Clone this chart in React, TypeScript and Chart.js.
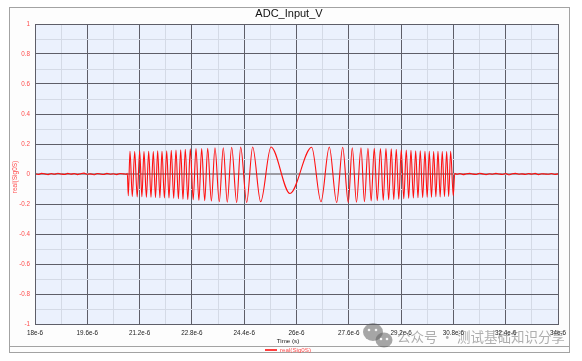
import React, { useEffect, useRef } from "react";
import { Chart, registerables } from "chart.js";

Chart.register(...registerables);

// ---- data (time in microseconds, value in volts-like units) ----
const chartTitle = "ADC_Input_V";
const seriesName = "real(Sig0S)";
const xAxisTitle = "Time (s)";
const yAxisTitle = "real(Sig0S)";
const watermarkText = "公众号 · 测试基础知识分享";

const noiseLeftTimeUs = [18.0, 18.1, 18.2, 18.3, 18.4, 18.5, 18.6, 18.7, 18.8, 18.9, 19.0, 19.1, 19.2, 19.3, 19.4, 19.5, 19.6, 19.7, 19.8, 19.9, 20.0, 20.1, 20.2, 20.3, 20.4, 20.5, 20.6, 20.7, 20.8];
const noiseLeftValue = [0.002, -0.003, 0.004, 0.001, -0.004, 0.003, -0.002, 0.005, 0.0, -0.003, 0.004, -0.001, 0.003, -0.004, 0.002, 0.006, -0.002, 0.001, -0.005, 0.003, 0.0, -0.003, 0.004, -0.002, 0.002, -0.004, 0.003, 0.001, -0.002];

const chirpTimeUs = [20.824, 20.854, 20.906, 20.976, 21.05, 21.126, 21.203, 21.27, 21.334, 21.408, 21.478, 21.548, 21.619, 21.686, 21.753, 21.821, 21.885, 21.958, 22.029, 22.099, 22.169, 22.243, 22.313, 22.387, 22.457, 22.527, 22.598, 22.674, 22.751, 22.839, 22.925, 23.014, 23.099, 23.191, 23.283, 23.396, 23.506, 23.638, 23.76, 23.882, 24.017, 24.17, 24.292, 24.476, 24.659, 24.904, 25.219, 25.8, 26.464, 26.749, 27.003, 27.229, 27.413, 27.584, 27.706, 27.835, 27.973, 28.079, 28.186, 28.284, 28.379, 28.471, 28.569, 28.654, 28.737, 28.82, 28.899, 28.976, 29.052, 29.129, 29.205, 29.282, 29.358, 29.432, 29.502, 29.575, 29.646, 29.716, 29.786, 29.86, 29.93, 29.998, 30.062, 30.129, 30.196, 30.264, 30.328, 30.395, 30.459, 30.527, 30.594, 30.655, 30.716, 30.796, 30.842];
const chirpValue = [0.005, -0.145, 0.152, -0.15, 0.15, -0.153, 0.153, -0.152, 0.15, -0.155, 0.152, -0.155, 0.15, -0.157, 0.155, -0.158, 0.152, -0.16, 0.155, -0.16, 0.158, -0.162, 0.16, -0.165, 0.162, -0.168, 0.165, -0.17, 0.168, -0.172, 0.17, -0.175, 0.17, -0.178, 0.172, -0.18, 0.175, -0.185, 0.175, -0.188, 0.178, -0.19, 0.18, -0.19, 0.18, -0.185, 0.18, -0.13, 0.178, -0.185, 0.18, -0.19, 0.178, -0.19, 0.175, -0.188, 0.175, -0.185, 0.172, -0.18, 0.172, -0.178, 0.17, -0.175, 0.17, -0.172, 0.168, -0.17, 0.165, -0.168, 0.162, -0.165, 0.16, -0.162, 0.158, -0.16, 0.155, -0.158, 0.155, -0.157, 0.152, -0.155, 0.152, -0.155, 0.15, -0.152, 0.152, -0.153, 0.15, -0.15, 0.15, -0.15, 0.152, -0.145, 0.005];

const noiseRightTimeUs = [30.9, 31.0, 31.1, 31.2, 31.3, 31.4, 31.5, 31.6, 31.7, 31.8, 31.9, 32.0, 32.1, 32.2, 32.3, 32.4, 32.5, 32.6, 32.7, 32.8, 32.9, 33.0, 33.1, 33.2, 33.3, 33.4, 33.5, 33.6, 33.7, 33.8, 33.9, 34.0];
const noiseRightValue = [-0.002, 0.003, -0.004, 0.002, 0.004, -0.001, -0.003, 0.005, 0.001, -0.004, 0.002, -0.002, 0.004, 0.0, -0.003, 0.003, -0.005, 0.002, 0.004, -0.002, 0.001, -0.003, 0.003, -0.001, 0.004, -0.004, 0.002, 0.0, -0.002, 0.003, -0.003, 0.001];

const xMinUs = 18;
const xMaxUs = 34;
const xStepUs = 0.8;
const yMin = -1;
const yMax = 1;
const yStep = 0.1;

const W = 582;
const H = 361;

const MAJOR = "#5e5e68";
const MINOR = "#d4dae6";

export default function App() {
  const ref = useRef<HTMLCanvasElement>(null);

  useEffect(() => {
    if (!ref.current) return;
    const times = [...noiseLeftTimeUs, ...chirpTimeUs, ...noiseRightTimeUs];
    const vals = [...noiseLeftValue, ...chirpValue, ...noiseRightValue];
    const points = times.map((t, i) => ({ x: t, y: vals[i] }));

    const isMajorY = (v: number) => Math.round(v * 10) % 2 === 0;
    const isMajorX = (v: number) => Math.round((v - xMinUs) / xStepUs) % 2 === 0;

    const decor = {
      id: "decor",
      beforeDraw(chart: any) {
        const c = chart.ctx;
        const a = chart.chartArea;
        c.save();
        c.fillStyle = "#ffffff";
        c.fillRect(0, 0, W, H);
        c.fillStyle = "#fdfdfd";
        c.fillRect(9, 7, 560, 345);
        c.fillStyle = "#ebf1fd";
        c.fillRect(a.left, a.top, a.right - a.left, a.bottom - a.top);
        c.restore();
      },
      afterDraw(chart: any) {
        const c = chart.ctx;
        const a = chart.chartArea;
        c.save();
        // plot frame
        c.strokeStyle = "#5e5e68";
        c.lineWidth = 1;
        c.strokeRect(Math.round(a.left) + 0.5, Math.round(a.top) + 0.5, Math.round(a.right - a.left), Math.round(a.bottom - a.top));
        // outer box
        c.strokeStyle = "#a3a3a3";
        c.strokeRect(9.5, 7.5, 560, 345);
        c.beginPath();
        c.moveTo(9, 346.5);
        c.lineTo(569, 346.5);
        c.stroke();
        // title
        c.fillStyle = "#111";
        c.textAlign = "center";
        c.textBaseline = "middle";
        c.font = "11px 'Liberation Sans', Arial, sans-serif";
        c.fillText(chartTitle, 289, 14);
        // x title
        c.font = "6.2px 'Liberation Sans', Arial, sans-serif";
        c.fillStyle = "#222";
        c.fillText(xAxisTitle, 288, 341);
        // y title
        c.save();
        c.translate(15.5, 177);
        c.rotate(-Math.PI / 2);
        c.fillStyle = "#ff4d4d";
        c.font = "6.5px 'Liberation Sans', Arial, sans-serif";
        c.fillText(yAxisTitle, 0, 0);
        c.restore();
        // legend
        c.strokeStyle = "#ff0000";
        c.lineWidth = 1.5;
        c.beginPath();
        c.moveTo(265, 350);
        c.lineTo(277, 350);
        c.stroke();
        c.fillStyle = "#ff4d4d";
        c.textAlign = "left";
        c.font = "6.2px 'Liberation Sans', Arial, sans-serif";
        c.fillText(seriesName, 280, 350);
        // watermark
        c.fillStyle = "rgba(95,95,95,0.55)";
        c.beginPath();
        c.ellipse(373, 332, 10, 9, 0, 0, Math.PI * 2);
        c.fill();
        c.beginPath();
        c.ellipse(384, 340, 8.5, 7.5, 0, 0, Math.PI * 2);
        c.fill();
        c.fillStyle = "rgba(255,255,255,0.9)";
        [[369, 330], [376, 330], [381, 339], [387, 339]].forEach(([x, y]) => {
          c.beginPath();
          c.arc(x, y, 1.3, 0, Math.PI * 2);
          c.fill();
        });
        c.fillStyle = "rgba(95,95,95,0.5)";
        c.textAlign = "left";
        let fs = 15;
        c.font = `${fs}px 'Noto Sans CJK SC', sans-serif`;
        const mw = c.measureText(watermarkText).width;
        if (mw > 168) {
          fs = (15 * 168) / mw;
          c.font = `${fs}px 'Noto Sans CJK SC', sans-serif`;
        }
        c.fillText(watermarkText, 397, 337);
        c.restore();
      },
    };

    const chart = new Chart(ref.current, {
      type: "line",
      data: {
        datasets: [
          {
            label: seriesName,
            data: points,
            borderColor: "#ff1010",
            borderWidth: 1.1,
            pointRadius: 0,
            cubicInterpolationMode: "monotone",
            fill: false,
          },
        ],
      },
      options: {
        animation: false,
        responsive: false,
        devicePixelRatio: 1,
        layout: { padding: { left: 0, top: 24, right: 24, bottom: 0 } },
        plugins: {
          legend: { display: false },
          title: { display: false },
          tooltip: { enabled: false },
        },
        scales: {
          x: {
            type: "linear",
            min: xMinUs,
            max: xMaxUs,
            ticks: {
              stepSize: xStepUs,
              autoSkip: false,
              maxRotation: 0,
              padding: 5,
              color: "#222",
              font: { family: "'Liberation Sans', Arial, sans-serif", size: 6.3 },
              callback: (v: any) => (isMajorX(Number(v)) ? `${Number(Number(v).toFixed(1))}e-6` : ""),
            },
            grid: {
              drawTicks: false,
              color: (ctx: any) => (ctx.tick && isMajorX(ctx.tick.value) ? MAJOR : MINOR),
              lineWidth: 1,
            },
            border: { display: true, color: MAJOR },
            afterFit: (s: any) => {
              s.height = 37;
              s.paddingLeft = 0;
              s.paddingRight = 0;
            },
          },
          y: {
            type: "linear",
            min: yMin,
            max: yMax,
            ticks: {
              stepSize: yStep,
              autoSkip: false,
              padding: 5,
              color: "#ff4d4d",
              font: { family: "'Liberation Sans', Arial, sans-serif", size: 6.3 },
              callback: (v: any) => (isMajorY(Number(v)) ? `${Number(Number(v).toFixed(1))}` : ""),
            },
            grid: {
              drawTicks: false,
              color: (ctx: any) => {
                const v = ctx.tick ? ctx.tick.value : 1;
                if (Math.abs(v) < 1e-9) return "#9c9ca4";
                return isMajorY(v) ? MAJOR : MINOR;
              },
              lineWidth: (ctx: any) => (ctx.tick && Math.abs(ctx.tick.value) < 1e-9 ? 2 : 1),
            },
            border: { display: true, color: MAJOR },
            afterFit: (s: any) => {
              s.width = 35;
              s.paddingTop = 0;
              s.paddingBottom = 0;
            },
          },
        },
      },
      plugins: [decor],
    } as any);

    return () => chart.destroy();
  }, []);

  return (
    <div style={{ position: "absolute", left: 0, top: 0, width: W, height: H, background: "#fff" }}>
      <canvas ref={ref} width={W} height={H} style={{ display: "block", width: W, height: H }} />
    </div>
  );
}
